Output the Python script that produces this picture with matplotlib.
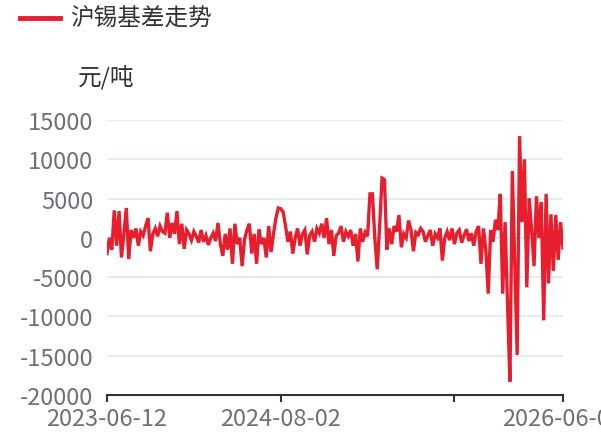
import matplotlib
matplotlib.use("Agg")
import matplotlib.pyplot as plt
import numpy as np

plt.rcParams['font.family'] = ['Noto Sans CJK SC', 'DejaVu Sans']

# 沪锡基差 (元/吨), evenly spaced trading days
basis = [
    -2000, 0, -1500, 3500, -1000, 3400, -2500, 500, 3800, -2700,
    1000, 0, 1200, -1000, 800, 300, 1500, 2500, -1700, 500,
    1200, 200, 1500, 800, 600, 3200, 0, 1900, 500, 3400,
    -800, 1800, -1400, 1000, 500, -300, 800, 200, -600, 1000,
    -500, 300, -900, 0, 600, -400, 1900, -800, -2300, 500,
    -1500, 1200, -3300, 1800, -800, 0, -3600, -200, 1000, 1800,
    -2000, 500, -3300, 1100, -800, 0, -2500, 1500, -1800, 500,
    2500, 3800, 3700, 3300, 1500, -500, 800, -2000, 0, 1200,
    -1000, 500, 1000, -2100, 300, 800, -500, 1200, 600, 1800,
    0, 2500, -800, 1000, -2300, 300, 600, 1500, -500, 800,
    200, 1000, -1000, 500, -3000, 1200, -500, 700, 200, 5600,
    5600, 0, -4000, 1500, 7600, 7400, -1500, 1200, -800, 1500,
    800, 2900, -1200, 500, 0, 2200, 1000, -1700, 700, 400,
    1200, 800, -500, 300, 1000, -1000, 500, 0, 1200, -2900,
    0, 800, -300, 1200, -800, 600, 1000, -600, 300, 1100,
    -400, 600, -1000, 800, 1500, -3300, 1200, -1500, -7100, 1000,
    -500, 2300, 1000, 5600, -7100, 2000, -8400, -18300, 8500, -3000,
    -14900, 12950, 2000, 10000, -6300, 5000, 1000, -3600, 5300, 0,
    4500, -10500, 5600, -5800, 3000, -4200, 2900, -2800, 2000, -1300,
]
tick_pos = [0, 72, 144, 189]
tick_labels = ['2023-06-12', '2024-08-02', '', '2026-06-05']
y_ticks = [-20000, -15000, -10000, -5000, 0, 5000, 10000, 15000]

fig = plt.figure(figsize=(6.01, 4.39), dpi=100)
ax = fig.add_axes([107/601, 1-396/439, 456/601, 275/439])

x = np.arange(len(basis))
ax.plot(x, basis, color='#E61E2E', lw=2.4, solid_joinstyle='miter')

ax.set_xlim(0, len(basis)-1)
ax.set_ylim(-20000, 15000)
ax.set_yticks(y_ticks)
ax.set_yticklabels([str(v) for v in y_ticks])
ax.set_xticks(tick_pos)
ax.set_xticklabels(tick_labels)

ax.grid(axis='y', color='#E0E6F1', lw=1.2)
ax.set_axisbelow(True)
for s in ['top', 'right', 'left']:
    ax.spines[s].set_visible(False)
ax.spines['bottom'].set_color('#333333')
ax.spines['bottom'].set_linewidth(1.5)
ax.tick_params(axis='y', length=0, pad=10, labelsize=17, labelcolor='#6E7079')
ax.tick_params(axis='x', length=5, width=1.5, color='#333333', pad=4,
               labelsize=17, labelcolor='#6E7079')

# legend & unit
fig.lines.append(plt.Line2D([20/601, 60/601], [1-19/439, 1-19/439],
                            transform=fig.transFigure, color='#E61E2E', lw=3.5))
fig.text(70/601, 1-19/439, '沪锡基差走势', fontsize=17, color='#333333', va='center')
fig.text(78/601, 1-77/439, '元/吨', fontsize=17, color='#333333', va='center')

fig.savefig('out.png', dpi=100)
